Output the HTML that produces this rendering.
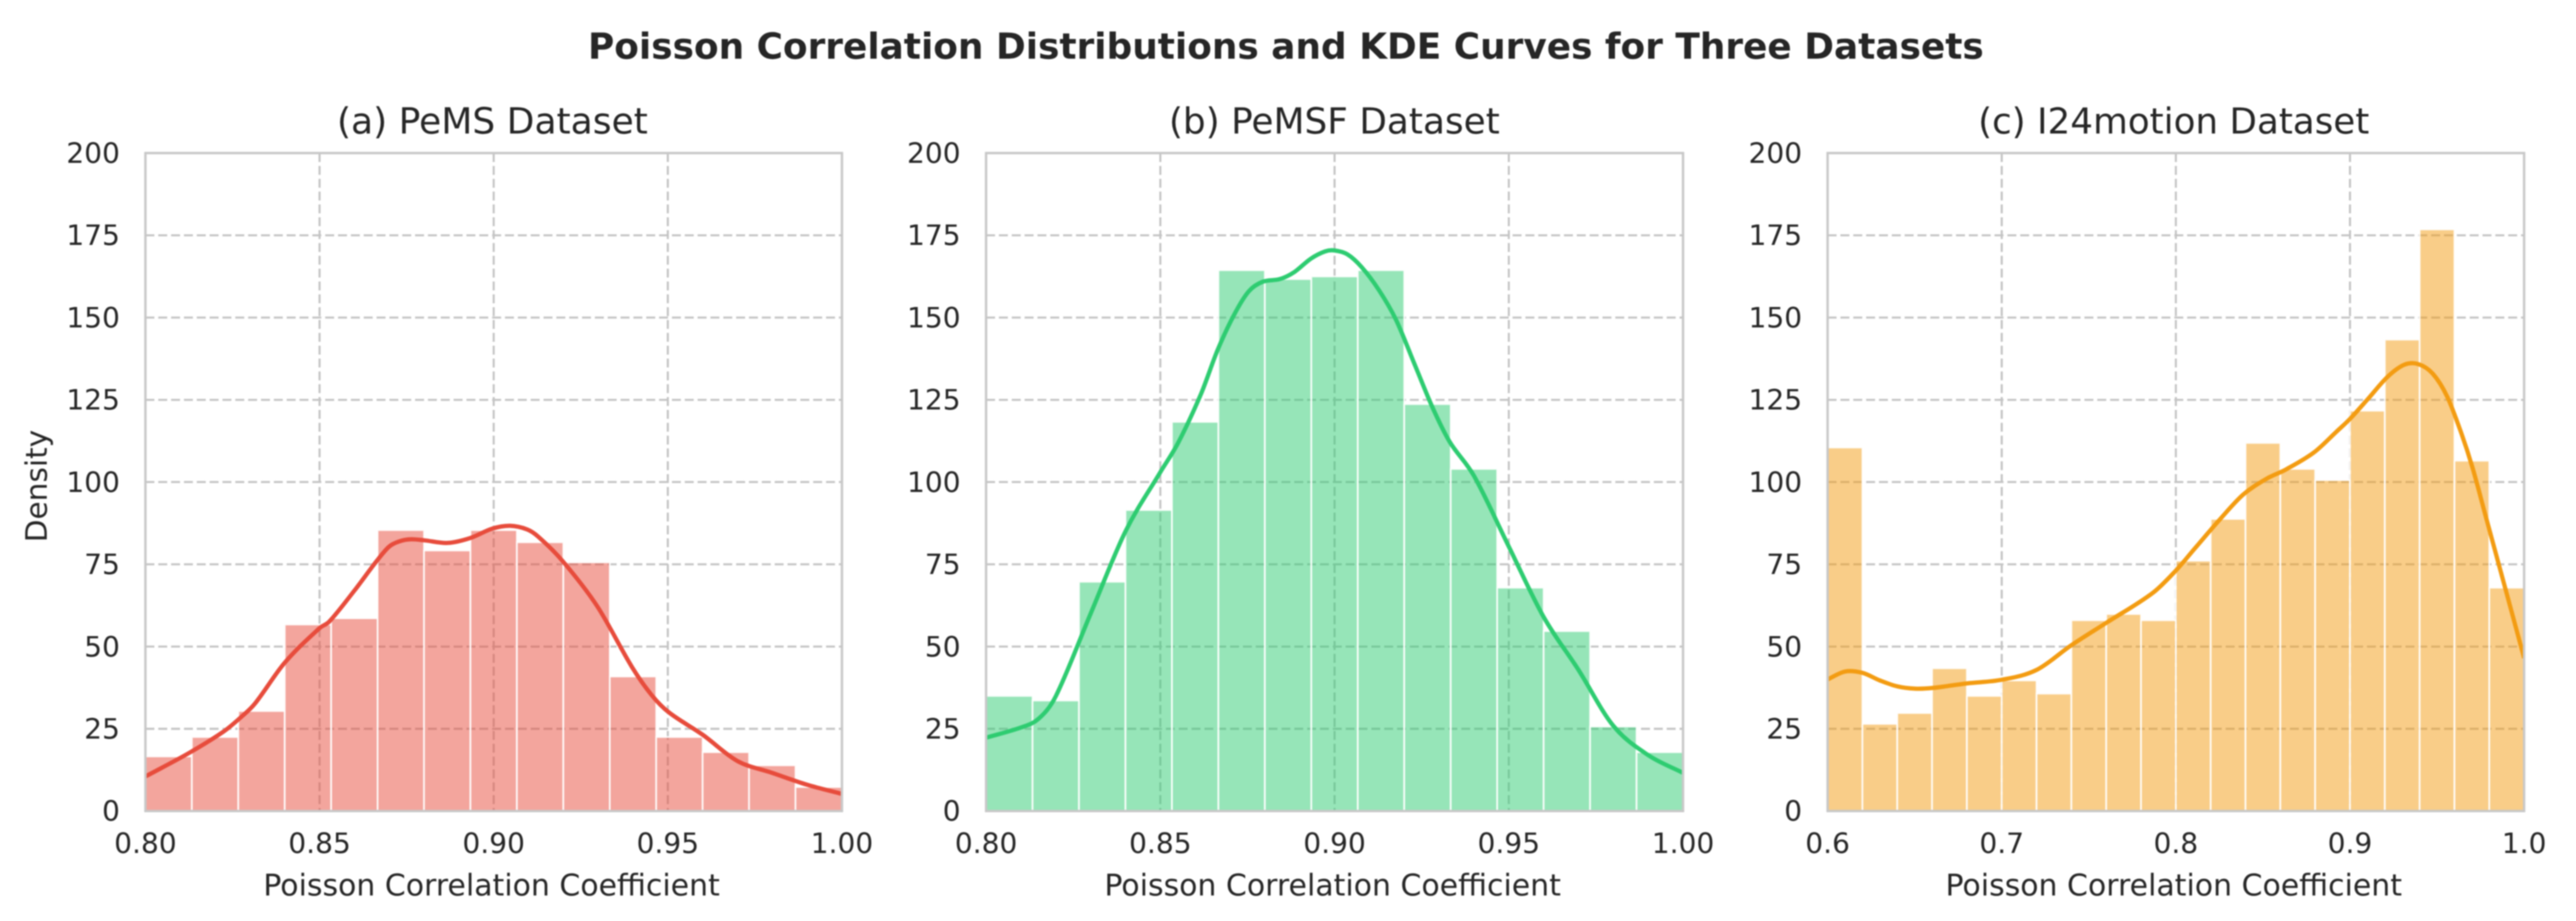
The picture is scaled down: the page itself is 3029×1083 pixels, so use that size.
<!DOCTYPE html>
<html>
<head>
<meta charset="utf-8">
<title>Poisson Correlation Distributions</title>
<style>
html,body{margin:0;padding:0;background:#fff;width:3029px;height:1083px;overflow:hidden}
svg{display:block;filter:blur(0.7px)}
text{font-family:"DejaVu Sans","Liberation Sans",sans-serif;fill:#262626;text-rendering:geometricPrecision}
</style>
</head>
<body>
<svg id="figure" xmlns="http://www.w3.org/2000/svg" width="3029" height="1083" viewBox="0 0 3029 1083">
  <rect x="0" y="0" width="3029" height="1083" fill="#ffffff"/>
  <text x="1512" y="69" text-anchor="middle" font-size="42.2" font-weight="700">Poisson Correlation Distributions and KDE Curves for Three Datasets</text>
  <text x="579" y="157" text-anchor="middle" font-size="42.4">(a) PeMS Dataset</text>
  <text x="1569" y="157" text-anchor="middle" font-size="42.2">(b) PeMSF Dataset</text>
  <text x="2556" y="157" text-anchor="middle" font-size="42">(c) I24motion Dataset</text>
  <text x="578" y="1053" text-anchor="middle" font-size="35.2">Poisson Correlation Coefficient</text>
  <text x="1567" y="1053" text-anchor="middle" font-size="35.2">Poisson Correlation Coefficient</text>
  <text x="2556" y="1053" text-anchor="middle" font-size="35.2">Poisson Correlation Coefficient</text>
  <text transform="translate(55 571.5) rotate(-90)" text-anchor="middle" font-size="34.8">Density</text>
  <g id="panel-a"></g>
  <g id="panel-b"></g>
  <g id="panel-c"></g>
</svg>
<script>
// Shared y axis
const yTicks = [0, 25, 50, 75, 100, 125, 150, 175, 200];

// Panel (a) PeMS
const aXTicks = [0.80, 0.85, 0.90, 0.95, 1.00];
const aXLabels = ["0.80", "0.85", "0.90", "0.95", "1.00"];
const aBins = [16.6, 22.5, 30.4, 56.7, 58.6, 85.4, 79.2, 85.4, 81.7, 75.6, 40.9, 22.5, 17.9, 13.9, 7.3];
const aKdeX = [0.80, 0.8126, 0.8225, 0.8274, 0.8314, 0.84, 0.85, 0.8528, 0.86, 0.8664, 0.87, 0.873, 0.8762, 0.88, 0.8868, 0.8933, 0.8995, 0.9047, 0.9096, 0.9128, 0.9197, 0.9297, 0.9397, 0.9454, 0.9503, 0.96, 0.97, 0.98, 0.99, 1.00];
const aKdeY = [10.5, 17.7, 24.2, 28.5, 32.6, 45.1, 55.6, 57.6, 67, 76, 80.4, 82, 82.6, 82.3, 81.5, 83, 85.8, 86.7, 85.6, 83.4, 76.1, 62.3, 43.8, 35.2, 30, 23.2, 15.2, 11.6, 8, 5.2];

// Panel (b) PeMSF
const bXTicks = [0.80, 0.85, 0.90, 0.95, 1.00];
const bXLabels = ["0.80", "0.85", "0.90", "0.95", "1.00"];
const bBins = [35, 33.6, 69.7, 91.5, 118.3, 164.4, 161.7, 162.5, 164.4, 123.7, 104, 67.9, 54.7, 25.7, 17.9];
const bKdeX = [0.80, 0.81, 0.815, 0.82, 0.83, 0.84, 0.85, 0.8551, 0.8616, 0.8665, 0.8713, 0.8754, 0.8794, 0.8843, 0.8884, 0.8932, 0.8973, 0.90, 0.9037, 0.9078, 0.9127, 0.9176, 0.9232, 0.9281, 0.933, 0.94, 0.95, 0.96, 0.97, 0.98, 0.99, 1.00];
const bKdeY = [22.3, 25.4, 28, 34.9, 60, 85, 103, 111.9, 126.6, 140.3, 151.1, 158, 160.9, 161.7, 163.8, 167.9, 170.1, 170.4, 169.2, 165.3, 158.4, 149.4, 135.2, 122.7, 112.3, 101.9, 80.4, 59, 42.9, 25.9, 17, 11.6];

// Panel (c) I24motion
const cXTicks = [0.6, 0.7, 0.8, 0.9, 1.0];
const cXLabels = ["0.6", "0.7", "0.8", "0.9", "1.0"];
const cBins = [110.5, 26.5, 29.8, 43.4, 35, 39.7, 35.7, 58, 59.9, 58, 76.1, 88.8, 111.9, 104, 100.6, 121.7, 143.3, 176.8, 106.5, 67.9];
const cKdeX = [0.60, 0.61, 0.62, 0.63, 0.64, 0.65, 0.66, 0.68, 0.70, 0.72, 0.74, 0.76, 0.7867, 0.80, 0.811, 0.8257, 0.8387, 0.8517, 0.8631, 0.8793, 0.8924, 0.90, 0.9102, 0.9216, 0.9314, 0.9395, 0.9476, 0.9558, 0.9639, 0.9704, 0.9785, 0.9899, 1.00];
const cKdeY = [40, 42.4, 42, 39.7, 37.9, 37.2, 37.4, 38.8, 39.9, 42.9, 50.4, 57.2, 66.3, 73.1, 79.9, 88.9, 96.2, 100.9, 103.8, 109, 115.4, 119.2, 125.2, 132, 135.7, 135.8, 132.9, 126, 114.9, 104.3, 88.5, 66.3, 46.5];

const SVG_NS = "http://www.w3.org/2000/svg";

function make(tag, attrs, parent) {
  const el = document.createElementNS(SVG_NS, tag);
  for (const k in attrs) el.setAttribute(k, attrs[k]);
  parent.appendChild(el);
  return el;
}

function smoothPath(pts) {
  let d = "M" + pts[0][0].toFixed(2) + " " + pts[0][1].toFixed(2);
  for (let i = 0; i < pts.length - 1; i++) {
    const p0 = pts[Math.max(i - 1, 0)], p1 = pts[i], p2 = pts[i + 1], p3 = pts[Math.min(i + 2, pts.length - 1)];
    const t1 = (p2[0] - p1[0]) / (p2[0] - p0[0] || 1), t2 = (p2[0] - p1[0]) / (p3[0] - p1[0] || 1);
    const c1x = p1[0] + (p2[0] - p0[0]) * t1 / 3, c1y = p1[1] + (p2[1] - p0[1]) * t1 / 3;
    const c2x = p2[0] - (p3[0] - p1[0]) * t2 / 3, c2y = p2[1] - (p3[1] - p1[1]) * t2 / 3;
    d += "C" + c1x.toFixed(2) + " " + c1y.toFixed(2) + " " + c2x.toFixed(2) + " " + c2y.toFixed(2) + " " + p2[0].toFixed(2) + " " + p2[1].toFixed(2);
  }
  return d;
}

function drawPanel(id, left, right, top, bottom, xTicks, xLabels, bins, kdeX, kdeY, color) {
  const g = document.getElementById(id);
  const xMin = xTicks[0], xMax = xTicks[xTicks.length - 1];
  const yMin = yTicks[0], yMax = yTicks[yTicks.length - 1];
  const xScale = v => left + (v - xMin) / (xMax - xMin) * (right - left);
  const yScale = v => bottom - (v - yMin) / (yMax - yMin) * (bottom - top);

  const clip = make("clipPath", { id: id + "-clip" }, g);
  make("rect", { x: left, y: top, width: right - left, height: bottom - top }, clip);

  // Grid
  xTicks.slice(1, -1).forEach(t => {
    const line = make("line", { x1: xScale(t), x2: xScale(t), y1: top, y2: bottom, stroke: "#c4c4c4", "stroke-width": 2.4, "stroke-dasharray": "10.5 4.6" }, g);
    
    
  });
  yTicks.slice(1, -1).forEach(t => {
    const line = make("line", { x1: left, x2: right, y1: yScale(t), y2: yScale(t), stroke: "#c4c4c4", "stroke-width": 2.4, "stroke-dasharray": "10.5 4.6" }, g);
    
    
  });

  // Histogram bars
  const binW = (xMax - xMin) / bins.length;
  bins.forEach((v, i) => {
    const x0 = xScale(xMin + i * binW), x1 = xScale(xMin + (i + 1) * binW);
    const bar = make("rect", { x: x0, y: yScale(v), width: x1 - x0, height: yScale(0) - yScale(v), fill: color, "fill-opacity": 0.5, stroke: "#ffffff", "stroke-opacity": 0.9, "stroke-width": 2, "clip-path": "url(#" + id + "-clip)" }, g);
    
    
  });

  // KDE curve
  const pts = kdeX.map((x, i) => [xScale(x), yScale(kdeY[i])]);
  const curve = make("path", { d: smoothPath(pts), fill: "none", stroke: color, "stroke-width": 5, "stroke-linejoin": "round", "clip-path": "url(#" + id + "-clip)" }, g);
  
  

  // Frame
  const frame = make("rect", { x: left, y: top, width: right - left, height: bottom - top, fill: "none", stroke: "#c8c8c8", "stroke-width": 2.8 }, g);
  
  

  // Tick labels
  yTicks.forEach(t => {
    const label = make("text", { x: left - 30, y: yScale(t) + 11.5, "text-anchor": "end", "font-size": 33 }, g);
    label.textContent = String(t);
    
    
  });
  xTicks.forEach((t, i) => {
    const label = make("text", { x: xScale(t), y: bottom + 49.5, "text-anchor": "middle", "font-size": 33 }, g);
    label.textContent = xLabels[i];
    
    
  });
}

drawPanel("panel-a", 171, 990, 180, 953.7, aXTicks, aXLabels, aBins, aKdeX, aKdeY, "#e74c3c");
drawPanel("panel-b", 1159.5, 1979, 180, 953.7, bXTicks, bXLabels, bBins, bKdeX, bKdeY, "#2ecc71");
drawPanel("panel-c", 2149, 2968, 180, 953.7, cXTicks, cXLabels, cBins, cKdeX, cKdeY, "#f39c12");
</script>
</body>
</html>
